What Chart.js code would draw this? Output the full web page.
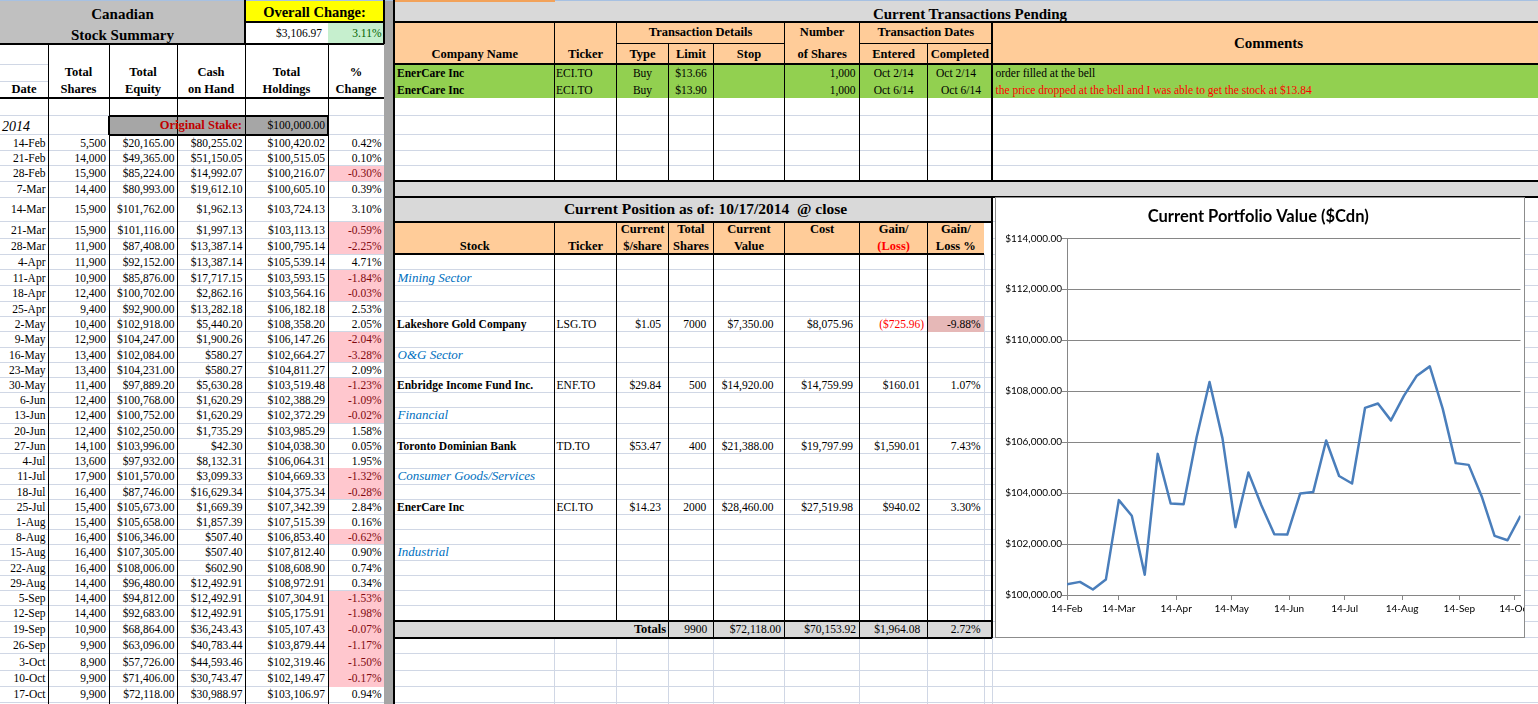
<!DOCTYPE html>
<html>
<head>
<meta charset="utf-8">
<title>Canadian Stock Summary</title>
<script src="https://cdn.jsdelivr.net/npm/chart.js@4.4.1/dist/chart.umd.min.js"></script>
<style>
  html, body { margin: 0; padding: 0; background: #fff; }
  body { width: 1538px; height: 704px; overflow: hidden; position: relative;
         font-family: "Liberation Serif", "Times New Roman", serif; font-size: 11.5px; color: #000; }
  #sheet { position: absolute; left: 0; top: 0; width: 1538px; height: 704px; }
  #chartBox { position: absolute; left: 995px; top: 197px; width: 530px; height: 441px;
              box-sizing: border-box; border: 1px solid #8c8c8c; background: #fff; overflow: hidden; }
  #portfolioChart { position: absolute; left: 0; top: 0; }
</style>
</head>
<body>
<div id="sheet"></div>
<div id="chartBox"><canvas id="portfolioChart" width="528" height="439"></canvas></div>

<script>
// dados do resumo semanal
const dates = ['14-Feb','21-Feb','28-Feb','7-Mar','14-Mar','21-Mar','28-Mar','4-Apr','11-Apr','18-Apr','25-Apr',
  '2-May','9-May','16-May','23-May','30-May','6-Jun','13-Jun','20-Jun','27-Jun','4-Jul','11-Jul','18-Jul','25-Jul',
  '1-Aug','8-Aug','15-Aug','22-Aug','29-Aug','5-Sep','12-Sep','19-Sep','26-Sep','3-Oct','10-Oct','17-Oct'];
const totalShares = [5500,14000,15900,14400,15900,15900,11900,11900,10900,12400,9400,10400,12900,13400,13400,11400,
  12400,12400,12400,14100,13600,17900,16400,15400,15400,16400,16400,16400,14400,14400,14400,10900,9900,8900,9900,9900];
const totalEquity = [20165.00,49365.00,85224.00,80993.00,101762.00,101116.00,87408.00,92152.00,85876.00,100702.00,
  92900.00,102918.00,104247.00,102084.00,104231.00,97889.20,100768.00,100752.00,102250.00,103996.00,97932.00,
  101570.00,87746.00,105673.00,105658.00,106346.00,107305.00,108006.00,96480.00,94812.00,92683.00,68864.00,
  63096.00,57726.00,71406.00,72118.00];
const cashOnHand = [80255.02,51150.05,14992.07,19612.10,1962.13,1997.13,13387.14,13387.14,17717.15,2862.16,13282.18,
  5440.20,1900.26,580.27,580.27,5630.28,1620.29,1620.29,1735.29,42.30,8132.31,3099.33,16629.34,1669.39,1857.39,
  507.40,507.40,602.90,12492.91,12492.91,12492.91,36243.43,40783.44,44593.46,30743.47,30988.97];
const totalHoldings = [100420.02,100515.05,100216.07,100605.10,103724.13,103113.13,100795.14,105539.14,103593.15,
  103564.16,106182.18,108358.20,106147.26,102664.27,104811.27,103519.48,102388.29,102372.29,103985.29,104038.30,
  106064.31,104669.33,104375.34,107342.39,107515.39,106853.40,107812.40,108608.90,108972.91,107304.91,105175.91,
  105107.43,103879.44,102319.46,102149.47,103106.97];
const pctChange = [0.42,0.10,-0.30,0.39,3.10,-0.59,-2.25,4.71,-1.84,-0.03,2.53,2.05,-2.04,-3.28,2.09,-1.23,-1.09,
  -0.02,1.58,0.05,1.95,-1.32,-0.28,2.84,0.16,-0.62,0.90,0.74,0.34,-1.53,-1.98,-0.07,-1.17,-1.50,-0.17,0.94];
const originalStake = 100000;
const overallChange = 3106.97;
const overallPct = 3.11;

// eixo x do grafico
const axisTicks = ['14-Feb','14-Mar','14-Apr','14-May','14-Jun','14-Jul','14-Aug','14-Sep','14-Oct'];
const yTicks = [100000, 102000, 104000, 106000, 108000, 110000, 112000, 114000];

// transacoes pendentes
const pendingCompany = ['EnerCare Inc', 'EnerCare Inc'];
const pendingTicker = ['ECI.TO', 'ECI.TO'];
const pendingType = ['Buy', 'Buy'];
const pendingLimit = [13.66, 13.90];
const pendingShares = [1000, 1000];
const pendingEntered = ['Oct 2/14', 'Oct 6/14'];
const pendingCompleted = ['Oct 2/14', 'Oct 6/14'];
const pendingComments = ['order filled at the bell', 'the price dropped at the bell and I was able to get the stock at $13.84'];

// posicao atual
const sectors = ['Mining Sector', 'O&G Sector', 'Financial', 'Consumer Goods/Services', 'Industrial'];
const stocks = ['Lakeshore Gold Company', 'Enbridge Income Fund Inc.', 'Toronto Dominian Bank', 'EnerCare Inc'];
const stockTickers = ['LSG.TO', 'ENF.TO', 'TD.TO', 'ECI.TO'];
const pricePerShare = [1.05, 29.84, 53.47, 14.23];
const sharesHeld = [7000, 500, 400, 2000];
const currentValue = [7350.00, 14920.00, 21388.00, 28460.00];
const costBasis = [8075.96, 14759.99, 19797.99, 27519.98];
const gainLoss = [-725.96, 160.01, 1590.01, 940.02];
const gainLossPct = [-9.88, 1.07, 7.43, 3.30];
const totalsRow = { shares: 9900, value: 72118.00, cost: 70153.92, gain: 1964.08, pct: 2.72 };

// grade da planilha (px)
const R = [0, 22, 43.5, 64, 81.5, 98, 115.5, 134.5, 150.5, 165.5, 181, 197, 221.7, 238, 254, 269.5, 285.5, 301, 316,
  331.5, 347, 362.3, 377.5, 392.5, 407.5, 423.3, 438.3, 453.3, 468.3, 484.3, 499.3, 514.3, 529.3, 544.3, 560.7, 575,
  590.7, 605.7, 621, 637.7, 653, 670, 686.5, 702.3, 718];
const LC = [0, 48, 109, 177, 245, 328, 384];
const TC = [395, 554.6, 616.5, 668.6, 713.3, 784.6, 859.6, 927.7, 992, 1545];
const sectorRows = [15, 20, 24, 28, 33];
const stockRows = [18, 22, 26, 30];

const GRID = '#d0d7e5';
const sheet = document.getElementById('sheet');

function put(x0, y0, x1, y1, css) {
  const d = document.createElement('div');
  d.style.cssText = `position:absolute;left:${x0}px;top:${y0}px;width:${x1 - x0}px;height:${y1 - y0}px;` + (css || '');
  sheet.appendChild(d);
  return d;
}
function fill(x0, y0, x1, y1, color) { put(x0, y0, x1, y1, 'background:' + color); }
function hline(x0, x1, y, w, color) { put(x0, y - w / 2, x1, y + w / 2, 'background:' + (color || '#000')); }
function vline(x, y0, y1, w, color) { put(x - w / 2, y0, x + w / 2, y1, 'background:' + (color || '#000')); }
function txt(x0, x1, y0, y1, s, align, css) {
  const just = align === 'l' ? 'flex-start' : align === 'r' ? 'flex-end' : 'center';
  const d = put(x0, y0, x1, y1, `display:flex;align-items:center;justify-content:${just};white-space:pre;box-sizing:border-box;` + (css || ''));
  d.textContent = s;
}
const money = v => '$' + v.toLocaleString('en-US', { minimumFractionDigits: 2, maximumFractionDigits: 2 });
const int = v => v.toLocaleString('en-US');
const BOLD = 'font-weight:bold;font-size:12.5px;';

// linhas claras de grade
hline(0, 48, R[3], 1, GRID); hline(0, 48, R[4], 1, GRID);
for (let r = 6; r <= 43; r++) hline(0, 384, R[r], 1, GRID);
for (let r = 6; r <= 9; r++) hline(395, 1538, R[r], 1, GRID);
for (let r = 15; r <= 37; r++) hline(395, 992, R[r], 1, GRID);
for (let r = 11; r <= 43; r++) hline(992, 1538, R[r], 1, GRID);
for (let r = 40; r <= 43; r++) hline(395, 1538, R[r], 1, GRID);
vline(984, R[14], R[38], 1, GRID);
[554.6, 616.5, 668.6, 713.3, 784.6, 859.6, 927.7, 984, 992].forEach(x => vline(x, R[39], 704, 1, GRID));

// preenchimentos
fill(0, 0, 245, R[2], '#c0c0c0');
fill(245, 0, 384, R[1], '#ffff00');
fill(328, R[1], 384, R[2], '#c6efce');
fill(109, R[6], 328, R[7], '#a6a6a6');
pctChange.forEach((p, i) => { if (p < 0) fill(328, R[7 + i], 384, R[8 + i], '#ffc7ce'); });
fill(384, 0, 393, 704, '#a5a5a5');
fill(395, 0, 1538, R[1], '#d9d9d9');
fill(395, R[1], 1538, R[3], '#ffcc99');
fill(395, R[3], 1538, R[5], '#92d050');
fill(395, R[10], 1538, R[11], '#d9d9d9');
fill(395, R[11], 992, R[12], '#d9d9d9');
fill(395, R[12], 984, R[14], '#ffcc99');
gainLossPct.forEach((p, i) => { if (p < 0) fill(927.7, R[stockRows[i]], 984, R[stockRows[i] + 1], '#e6b8b7'); });
fill(395, R[38], 992, R[39], '#d9d9d9');

// bordas
hline(0, 1538, 0.5, 1, '#a7c1e2');
hline(394, 555, 1, 2, '#f2a25a');
hline(0, 384, R[2], 2); hline(0, 384, R[5], 2);
LC.slice(1, 6).forEach(x => vline(x, R[2], 704, 1));
vline(245, 0, R[2], 2); vline(384, 0, R[2], 2); hline(245, 384, R[1], 2);
hline(109, 328, R[6], 2); hline(109, 328, R[7], 2); vline(109, R[6], R[7], 2); vline(328, R[6], R[7], 2);
vline(394, 0, 704, 2);
[R[1], R[3], R[10], R[11]].forEach(y => hline(395, 1538, y, 2));
hline(616.5, 784.6, R[2], 1); hline(859.6, 992, R[2], 1);
[554.6, 616.5, 784.6, 859.6].forEach(x => vline(x, R[1], R[10], 1));
[668.6, 713.3, 927.7].forEach(x => vline(x, R[2], R[10], 1));
vline(992, R[1], R[10], 2);
hline(395, 992, R[12], 2); hline(395, 984, R[14], 2);
TC.slice(1, 8).forEach(x => vline(x, R[12], R[38], 1));
[668.6, 713.3, 784.6, 859.6, 927.7].forEach(x => vline(x, R[38], R[39], 1));
hline(395, 992, R[38], 2); hline(395, 992, R[39], 2);
vline(992, R[11], R[39], 2);

// textos do resumo
txt(0, 245, 3, 25, 'Canadian', 'c', 'font-weight:bold;font-size:15px;');
txt(0, 245, 24, 46, 'Stock Summary', 'c', 'font-weight:bold;font-size:15px;');
txt(245, 384, 1, 24, 'Overall Change:', 'c', 'font-weight:bold;font-size:14.5px;');
txt(245, 328, R[1], R[2], money(overallChange), 'r', 'padding-right:6px;');
txt(328, 384, R[1], R[2], overallPct.toFixed(2) + '%', 'r', 'padding-right:2.5px;color:#006100;');
const leftHeads = [['', 'Date'], ['Total', 'Shares'], ['Total', 'Equity'], ['Cash', 'on Hand'], ['Total', 'Holdings'], ['%', 'Change']];
leftHeads.forEach((h, c) => {
  txt(LC[c], LC[c + 1], R[3], R[4], h[0], 'c', BOLD);
  txt(LC[c], LC[c + 1], R[4], R[5], h[1], 'c', BOLD);
});
txt(0, 48, R[6] + 1.5, R[7] + 1.5, '2014', 'l', 'padding-left:2px;font-style:italic;font-size:14px;');
txt(109, 245, R[6], R[7], 'Original Stake:', 'r', 'padding-right:3px;color:#c00000;' + BOLD);
txt(245, 328, R[6], R[7], money(originalStake), 'r', 'padding-right:3px;');
dates.forEach((d, i) => {
  const y0 = R[7 + i], y1 = R[8 + i];
  txt(0, 48, y0, y1, d, 'r', 'padding-right:2.5px;');
  txt(48, 109, y0, y1, int(totalShares[i]), 'r', 'padding-right:3px;');
  txt(109, 177, y0, y1, money(totalEquity[i]), 'r', 'padding-right:2.5px;');
  txt(177, 245, y0, y1, money(cashOnHand[i]), 'r', 'padding-right:2.5px;');
  txt(245, 328, y0, y1, money(totalHoldings[i]), 'r', 'padding-right:3px;');
  txt(328, 384, y0, y1, pctChange[i].toFixed(2) + '%', 'r', 'padding-right:2.5px;' + (pctChange[i] < 0 ? 'color:#7f0a10;' : ''));
});

// textos das transacoes pendentes
txt(395, 1545, 3, 25, 'Current Transactions Pending', 'c', 'font-weight:bold;font-size:15px;');
txt(616.5, 784.6, R[1], R[2], 'Transaction Details', 'c', BOLD);
txt(784.6, 859.6, R[1], R[2], 'Number', 'c', BOLD);
txt(859.6, 992, R[1], R[2], 'Transaction Dates', 'c', BOLD);
['Company Name', 'Ticker', 'Type', 'Limit', 'Stop', 'of Shares', 'Entered', 'Completed'].forEach((h, c) => {
  txt(TC[c], TC[c + 1], R[2] + 1, R[3] + 1, h, 'c', BOLD);
});
txt(992, 1545, R[1], R[3], 'Comments', 'c', 'font-weight:bold;font-size:15px;');
pendingCompany.forEach((name, i) => {
  const y0 = R[3 + i], y1 = R[4 + i];
  txt(395, 554.6, y0, y1, name, 'l', 'padding-left:2px;font-weight:bold;');
  txt(554.6, 616.5, y0, y1, pendingTicker[i], 'l', 'padding-left:1.5px;');
  txt(616.5, 668.6, y0, y1, pendingType[i], 'c');
  txt(668.6, 713.3, y0, y1, money(pendingLimit[i]), 'c');
  txt(784.6, 859.6, y0, y1, int(pendingShares[i]), 'r', 'padding-right:4px;');
  txt(859.6, 927.7, y0, y1, pendingEntered[i], 'c');
  txt(927.7, 992, y0, y1, pendingCompleted[i], 'r', i === 0 ? 'padding-right:16px;' : 'padding-right:11px;');
  txt(992, 1538, y0, y1, pendingComments[i], 'l', 'padding-left:3.5px;' + (i === 1 ? 'color:#ff0000;' : ''));
});

// textos da posicao atual
txt(395, 1016, R[11], R[12], 'Current Position as of: 10/17/2014  @ close', 'c', 'font-weight:bold;font-size:15.5px;');
const posHeads = [['', 'Stock'], ['', 'Ticker'], ['Current', '$/share'], ['Total', 'Shares'], ['Current', 'Value'],
  ['Cost', ''], ['Gain/', '(Loss)'], ['Gain/', 'Loss %']];
const posCols = [395, 554.6, 616.5, 668.6, 713.3, 784.6, 859.6, 927.7, 984];
posHeads.forEach((h, c) => {
  txt(posCols[c], posCols[c + 1], R[12], R[13], h[0], 'c', BOLD);
  txt(posCols[c], posCols[c + 1], R[13], R[14], h[1], 'c', BOLD + (c === 6 ? 'color:#ff0000;' : ''));
});
sectors.forEach((s, i) => {
  txt(395, 700, R[sectorRows[i]], R[sectorRows[i] + 1], s, 'l', 'padding-left:2.5px;font-style:italic;font-size:13px;color:#0070c0;');
});
stocks.forEach((s, i) => {
  const y0 = R[stockRows[i]], y1 = R[stockRows[i] + 1];
  const g = gainLoss[i];
  txt(395, 554.6, y0, y1, s, 'l', 'padding-left:2px;font-weight:bold;');
  txt(554.6, 616.5, y0, y1, stockTickers[i], 'l', 'padding-left:2px;');
  txt(616.5, 668.6, y0, y1, money(pricePerShare[i]), 'r', 'padding-right:7.5px;');
  txt(668.6, 713.3, y0, y1, String(sharesHeld[i]), 'r', 'padding-right:7px;');
  txt(713.3, 784.6, y0, y1, money(currentValue[i]), 'r', 'padding-right:11px;');
  txt(784.6, 859.6, y0, y1, money(costBasis[i]), 'r', 'padding-right:6.5px;');
  txt(859.6, 927.7, y0, y1, g < 0 ? '(' + money(-g) + ')' : money(g), 'r',
    g < 0 ? 'padding-right:3.5px;color:#ff0000;' : 'padding-right:7.5px;');
  txt(927.7, 984, y0, y1, gainLossPct[i].toFixed(2) + '%', 'r', 'padding-right:3.5px;');
});
txt(616.5, 668.6, R[38], R[39], 'Totals', 'r', 'padding-right:2.5px;' + BOLD);
txt(668.6, 713.3, R[38], R[39], String(totalsRow.shares), 'r', 'padding-right:6px;');
txt(713.3, 784.6, R[38], R[39], money(totalsRow.value), 'r', 'padding-right:3.5px;');
txt(784.6, 859.6, R[38], R[39], money(totalsRow.cost), 'r', 'padding-right:3.5px;');
txt(859.6, 927.7, R[38], R[39], money(totalsRow.gain), 'r', 'padding-right:7.5px;');
txt(927.7, 984, R[38], R[39], totalsRow.pct.toFixed(2) + '%', 'r', 'padding-right:3.5px;');

// grafico do valor da carteira
const monthNames = ['Jan','Feb','Mar','Apr','May','Jun','Jul','Aug','Sep','Oct','Nov','Dec'];
const monthDays = [31,28,31,30,31,30,31,31,30,31,30,31];
function dayOfYear(label) {
  const [d, m] = label.split('-');
  let n = Number(d);
  for (let k = 0; k < monthNames.indexOf(m); k++) n += monthDays[k];
  return n;
}

const axisFont = { family: 'Lato', size: 10 };
new Chart(document.getElementById('portfolioChart'), {
  type: 'line',
  data: {
    datasets: [{
      data: dates.map((d, i) => ({ x: dayOfYear(d), y: totalHoldings[i] })),
      borderColor: '#4a7ebb',
      borderWidth: 2.5,
      borderJoinStyle: 'round',
      pointRadius: 0,
      tension: 0
    }]
  },
  options: {
    responsive: false,
    animation: false,
    layout: { padding: { left: 0, right: 3.5, top: 0, bottom: 0 } },
    plugins: {
      legend: { display: false },
      tooltip: { enabled: false },
      title: {
        display: true,
        text: 'Current Portfolio Value ($Cdn)',
        color: '#000',
        font: { family: 'Lato', size: 16.5, weight: 'bold' },
        padding: { top: 9, bottom: 11.5 }
      }
    },
    scales: {
      x: {
        type: 'linear',
        min: dayOfYear(dates[0]),
        max: dayOfYear(dates[dates.length - 1]),
        afterBuildTicks: s => { s.ticks = axisTicks.map(t => ({ value: dayOfYear(t) })); },
        afterFit: s => { s.height = 42; s.paddingLeft = 0; s.paddingRight = 0; },
        ticks: { callback: (v, i) => axisTicks[i], autoSkip: false, maxRotation: 0, color: '#000', font: axisFont, padding: 3 },
        grid: { drawOnChartArea: false, tickLength: 5, color: '#868686' },
        border: { color: '#868686' }
      },
      y: {
        min: yTicks[0],
        max: yTicks[yTicks.length - 1],
        afterBuildTicks: s => { s.ticks = yTicks.map(v => ({ value: v })); },
        afterFit: s => { s.width = 71; s.paddingTop = 0; s.paddingBottom = 0; },
        ticks: { callback: v => money(v), color: '#000', font: axisFont, padding: 0 },
        grid: { color: '#868686', tickLength: 5 },
        border: { color: '#868686' }
      }
    }
  }
});
</script>
</body>
</html>
